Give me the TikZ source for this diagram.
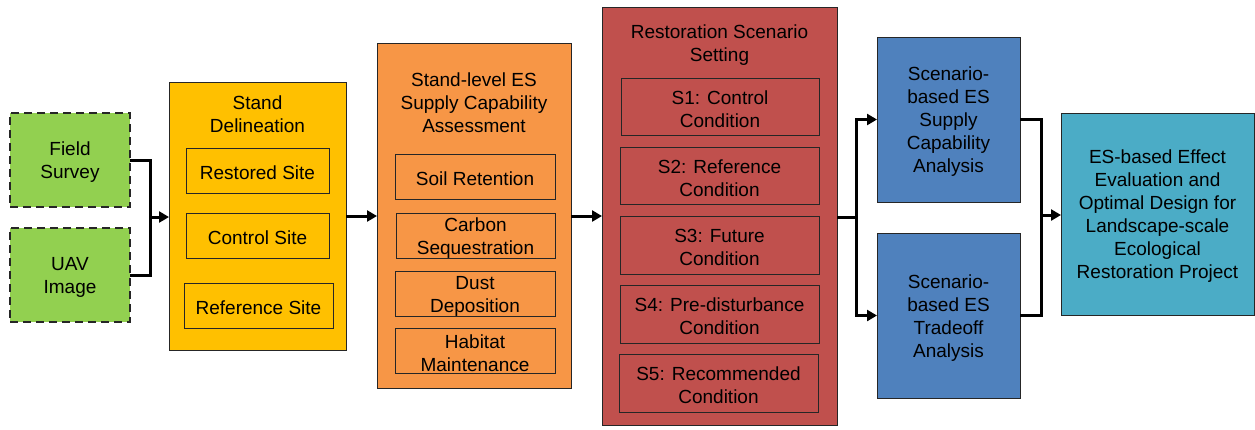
\documentclass[tikz,border=0pt]{standalone}
\usepackage{fontspec}
\setmainfont{Liberation Sans}
\usetikzlibrary{arrows.meta}
\definecolor{cgreen}{HTML}{92D050}
\definecolor{cgold}{HTML}{FFC000}
\definecolor{corange}{HTML}{F79646}
\definecolor{cred}{HTML}{C0504D}
\definecolor{cblue}{HTML}{4F81BD}
\definecolor{cteal}{HTML}{4BACC6}
\newcommand\bx[7]{\node[#6, minimum width={(#4-#2)*1pt}, minimum height={(#5-#3)*1pt}] (#1) at ({(#2+#4)/2},{(#3+#5)/2}) {};
  \node[ttl] (#1t) at ({(#2+#4)/2},{(#3+#5)/2+2.5}) {#7};}
\tikzset{
  box/.style={draw=black!85, line width=0.9pt, inner sep=0pt, outer sep=0pt},
  dbox/.style={box, draw=black!85, line width=2.6pt, dash pattern=on 8pt off 5pt, fill=cgreen},
  ttl/.style={align=center, inner sep=0pt, font=\fontsize{19}{23}\selectfont},
  link/.style={line width=3pt, draw=black},
  arr/.style={link, -{Triangle[length=10pt,width=11pt]}}
}
\begin{document}
\begin{tikzpicture}[x=1pt,y=-1pt]
\useasboundingbox (0,0) rectangle (1255,429);
% sources
\bx{fs}{10}{113}{130}{207}{dbox}{Field\\Survey}
\bx{uav}{10}{228}{130}{322}{dbox}{UAV\\Image}
% stand delineation
\bx{sd}{169}{82}{346}{350}{box, fill=cgold}{}
\node[ttl] (sdti) at (257.5,114.5) {Stand\\Delineation};
\bx{rs1}{186}{148}{329}{193}{box}{Restored Site}
\bx{cs1}{186}{213}{329}{258}{box}{Control Site}
\bx{rf1}{184}{283}{333}{328}{box}{Reference Site}
% ES assessment
\bx{es}{377}{43}{571}{388}{box, fill=corange}{}
\node[ttl] (esti) at (474,102.5) {Stand-level ES\\Supply Capability\\Assessment};
\bx{soil}{395}{154}{555}{199}{box}{Soil Retention}
\bx{carb}{396}{213}{555}{258}{box}{Carbon\\Sequestration}
\bx{dust}{395}{271}{555}{316}{box}{Dust\\Deposition}
\bx{hab}{395}{328}{555}{373}{box}{Habitat\\Maintenance}
% restoration scenario
\bx{rs}{602}{7}{837}{425}{box, fill=cred}{}
\node[ttl] (rsti) at (719.5,45) {Restoration Scenario\\Setting};
\bx{s1}{621}{78}{819}{135}{box}{S1: Control\\Condition}
\bx{s2}{620}{147}{819}{204}{box}{S2: Reference\\Condition}
\bx{s3}{620}{216}{819}{274}{box}{S3: Future\\Condition}
\bx{s4}{620}{285}{819}{343}{box}{S4: Pre-disturbance\\Condition}
\bx{s5}{619}{354}{818}{412}{box}{S5: Recommended\\Condition}
% analyses
\bx{sup}{877}{37}{1020}{202}{box, fill=cblue}{Scenario-\\based ES\\Supply\\Capability\\Analysis}
\bx{tr}{877}{233}{1020}{398}{box, fill=cblue}{Scenario-\\based ES\\Tradeoff\\Analysis}
% final
\bx{fin}{1061}{113}{1254}{315}{box, fill=cteal}{ES-based Effect\\Evaluation and\\Optimal Design for\\Landscape-scale\\Ecological\\Restoration Project}
% connectors
\coordinate (j1) at (150,217);
\draw[link] (fs.east) -| (j1) |- (uav.east);
\draw[arr] (j1) -- (j1 -| sd.west);
\draw[arr] (sd.east) -- (sd.east -| es.west);
\draw[arr] (es.east |- rs.west) -- (rs.west);
\coordinate (j2) at (856,217);
\draw[link] (rs.east |- j2) -- (j2);
\draw[arr] (j2) |- (sup.west);
\draw[arr] (j2) |- (tr.west);
\coordinate (j3) at (1041,215);
\draw[link] (sup.east) -| (j3) |- (tr.east);
\draw[arr] (j3) -- (j3 -| fin.west);
\end{tikzpicture}
\end{document}
